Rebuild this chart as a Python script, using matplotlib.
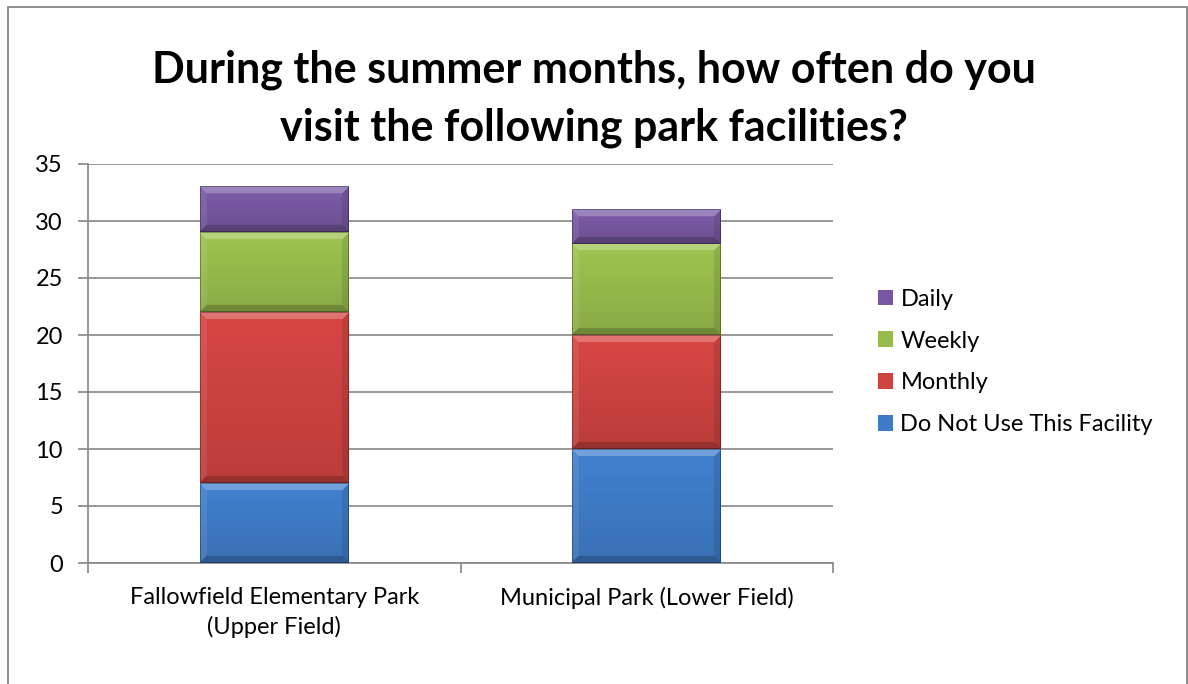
import numpy as np
import matplotlib
matplotlib.use('Agg')
import matplotlib.pyplot as plt
from matplotlib.patches import Rectangle, Patch
from matplotlib.colors import to_rgb

plt.rcParams['font.family'] = ['Lato', 'DejaVu Sans']

# ── data ──
parks = ['Fallowfield Elementary Park\n(Upper Field)', 'Municipal Park (Lower Field)']
series = ['Do Not Use This Facility', 'Monthly', 'Weekly', 'Daily']
do_not_use = [7, 10]
monthly = [15, 10]
weekly = [7, 8]
daily = [4, 3]
yticks = [0, 5, 10, 15, 20, 25, 30, 35]

COLORS = ['#3f7bc6', '#cd4340', '#98bb4c', '#7758a0']
GRID = '#868686'
FS = 17
W, H, DPI = 1188, 684, 100


def bevel_image(color, wpx, hpx, band=7):
    """pixel image of a bevelled (Excel 2007 style) bar segment"""
    wpx, hpx = max(int(wpx), 2), max(int(hpx), 2)
    base = np.array(to_rgb(color))
    yy, xx = np.mgrid[0:hpx, 0:wpx]
    # vertical shading: a bit lighter at top, darker at bottom
    t = yy / max(hpx - 1, 1)
    shade = 1.05 - 0.14 * t
    img = np.clip(base[None, None, :] * shade[..., None], 0, 1)
    d_top, d_bot = yy, hpx - 1 - yy
    d_l, d_r = xx, wpx - 1 - xx
    dmin = np.minimum(np.minimum(d_top, d_bot), np.minimum(d_l, d_r))
    inband = dmin < band
    top = inband & (d_top == dmin)
    bot = inband & (d_bot == dmin) & ~top
    left = inband & (d_l == dmin) & ~top & ~bot
    right = inband & (d_r == dmin) & ~top & ~bot & ~left
    white, black = np.ones(3), np.zeros(3)
    img[top] = img[top] * 0.75 + white * 0.25
    img[bot] = img[bot] * 0.8 + black * 0.2
    img[left] = img[left] * 0.92 + white * 0.08
    img[right] = img[right] * 0.9 + black * 0.1
    # thin dark outline
    edge = dmin < 1
    img[edge] = img[edge] * 0.7
    return img


fig = plt.figure(figsize=(W / DPI, H / DPI), dpi=DPI)
fig.patch.set_facecolor('white')

# outer chart border
fig.add_artist(Rectangle((8 / W, -0.02), (1187 - 8) / W, 1.02 - 7 / H,
                         transform=fig.transFigure, fill=False,
                         edgecolor=GRID, lw=1.3))

ax = fig.add_axes([88 / W, (H - 563) / H, 745 / W, 399 / H])
ax.set_xlim(-0.5, 1.5)
ax.set_ylim(0, 35)

x = np.arange(len(parks))
bw = 0.4
bottom = np.zeros(len(parks))
for vals, col in zip([do_not_use, monthly, weekly, daily], COLORS):
    bars = ax.bar(x, vals, bw, bottom=bottom, color=col, edgecolor='none', zorder=3)
    for b in bars:
        x0, y0 = b.get_x(), b.get_y()
        x1, y1 = x0 + b.get_width(), y0 + b.get_height()
        p0 = ax.transData.transform((x0, y0))
        p1 = ax.transData.transform((x1, y1))
        img = bevel_image(col, p1[0] - p0[0], p1[1] - p0[1])
        ax.imshow(img, extent=(x0, x1, y0, y1), aspect='auto',
                  interpolation='bilinear', zorder=4)
    bottom += np.array(vals)
ax.set_xlim(-0.5, 1.5)
ax.set_ylim(0, 35)

ax.set_yticks(yticks)
ax.yaxis.grid(True, color=GRID, lw=1.2)
ax.set_axisbelow(True)
ax.set_xticks(x)
ax.set_xticklabels(parks, fontsize=FS, linespacing=1.45)
ax.set_xticks([-0.5, 0.5, 1.5], minor=True)
ax.tick_params(axis='x', which='major', length=0, pad=17)
ax.tick_params(axis='x', which='minor', length=7, width=1.2, color=GRID)
ax.tick_params(axis='y', length=7, width=1.2, color=GRID, labelsize=FS, pad=11)
for s in ['top', 'right']:
    ax.spines[s].set_visible(False)
for s in ['left', 'bottom']:
    ax.spines[s].set_color(GRID)
    ax.spines[s].set_linewidth(1.2)

fig.text(0.5, 1 - 70 / H, 'During the summer months, how often do you',
         ha='center', va='center', fontsize=31, fontweight='bold')
fig.text(0.5, 1 - 128 / H, 'visit the following park facilities?',
         ha='center', va='center', fontsize=31, fontweight='bold')

handles = [Patch(facecolor=c, edgecolor='none') for c in COLORS[::-1]]
fig.legend(handles, series[::-1], loc='center left',
           bbox_to_anchor=(878 / W, 1 - 362 / H), frameon=False,
           fontsize=FS, handlelength=0.65, handleheight=0.65,
           handletextpad=0.3, labelspacing=0.88, borderpad=0, borderaxespad=0)

fig.savefig('out.png', dpi=DPI, facecolor='white')
